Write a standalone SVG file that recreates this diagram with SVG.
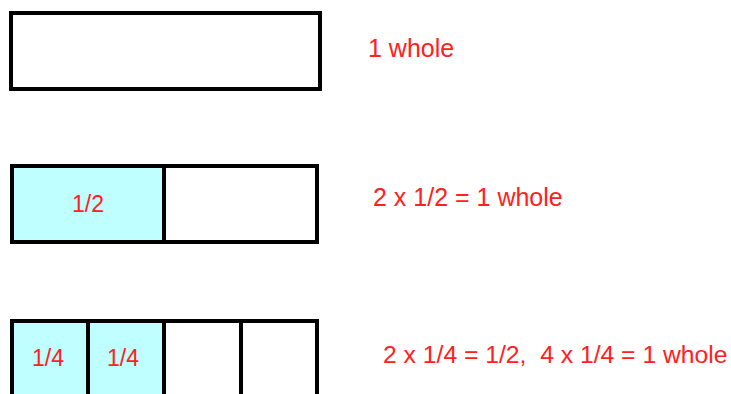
<svg xmlns="http://www.w3.org/2000/svg" width="731" height="394" viewBox="0 0 731 394">
  <style>
    .box { fill: #ffffff; stroke: #000000; stroke-width: 4; }
    .part { fill: #c0ffff; stroke: #000000; stroke-width: 4; }
    .cell { fill: #ffffff; stroke: #000000; stroke-width: 4; }
    .lbl { font-family: "Liberation Sans", Arial, sans-serif; font-size: 25px; fill: #ff2020; }
    .frac { font-family: "Liberation Sans", Arial, sans-serif; font-size: 23px; fill: #ff2020; text-anchor: middle; }
  </style>
  <rect width="731" height="394" fill="#ffffff"/>
  <g id="whole">
    <rect class="box" x="11" y="13" width="309" height="76"/>
    <text class="lbl" x="368" y="57">1 whole</text>
  </g>
  <g id="halves">
    <rect class="part" x="12" y="166" width="152" height="76"/>
    <rect class="cell" x="164" y="166" width="153" height="76"/>
    <text class="frac" x="88" y="212">1/2</text>
    <text class="lbl" x="373" y="206">2 x 1/2 = 1 whole</text>
  </g>
  <g id="quarters">
    <rect class="part" x="12" y="321" width="76" height="80"/>
    <rect class="part" x="88" y="321" width="76" height="80"/>
    <rect class="cell" x="164" y="321" width="77" height="80"/>
    <rect class="cell" x="241" y="321" width="76" height="80"/>
    <text class="frac" x="48" y="366">1/4</text>
    <text class="frac" x="123" y="366">1/4</text>
    <text class="lbl" x="383" y="363" style="font-size:24.7px" xml:space="preserve">2 x 1/4 = 1/2,  4 x 1/4 = 1 whole</text>
  </g>
</svg>
